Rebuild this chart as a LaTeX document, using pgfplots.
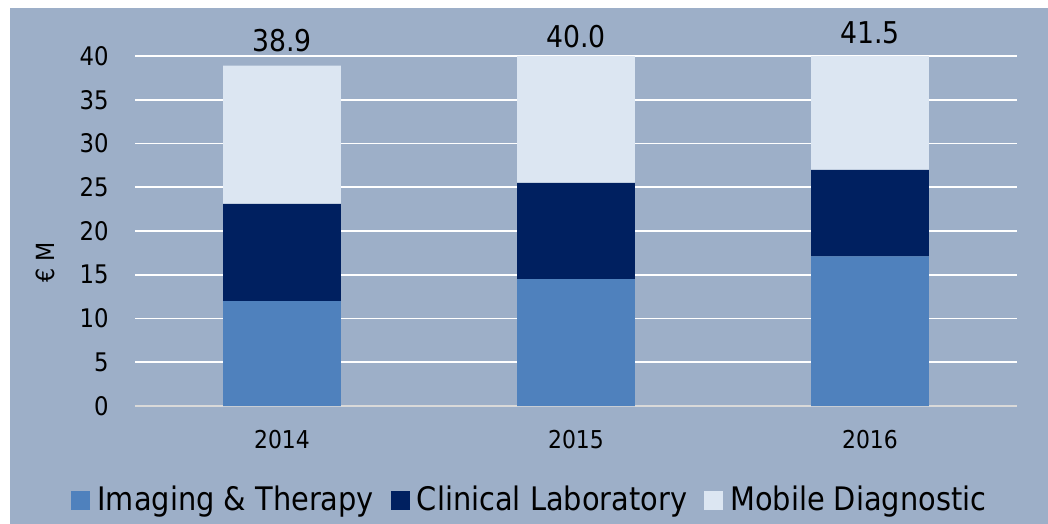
\documentclass[border=0pt]{standalone}
\usepackage{pgfplots}
\usepackage{pgfplotstable}
\pgfplotsset{compat=1.18}
\usepackage{fontspec}
\setmainfont{DejaVu Sans}[FakeStretch=0.89]
\definecolor{bgc}{HTML}{9DAFC8}
\definecolor{imgc}{HTML}{4F81BD}
\definecolor{clinc}{HTML}{002060}
\definecolor{mobc}{HTML}{DCE6F2}
\definecolor{zeroc}{HTML}{D9D9D9}
\pgfplotstableread{
x imaging clinical mobile
0 12.0 11.1 15.8
1 14.5 11.0 14.5
2 17.1 9.9 14.5
}\datatable
\begin{document}
\begin{tikzpicture}
\fill[white] (-67.5bp,-59bp) rectangle (456.5bp,203bp);
\fill[bgc] (-62.5bp,-59bp) rectangle (456.5bp,199bp);
\begin{axis}[
  at={(0,0)}, anchor=south west,
  scale only axis, width=441bp, height=175bp,
  ybar stacked, bar width=0.4,
  xmin=-0.5, xmax=2.5, ymin=0, ymax=40,
  xtick=data, xticklabels={2014,2015,2016},
  ytick={0,5,...,40},
  major tick length=0pt,
  axis x line*=bottom,
  axis y line*=left,
  y axis line style={draw=none},
  x axis line style={draw=zeroc, line width=0.9bp, -},
  ymajorgrids, grid style={white, line width=0.9bp},
  /pgf/number format/assume math mode=true,
  yticklabel style={font=\fontsize{12.8bp}{14bp}\selectfont, inner sep=0pt, anchor=east, xshift=-13bp},
  xticklabel style={font=\fontsize{12.3bp}{14bp}\selectfont, anchor=center, yshift=-17bp},
  ylabel={€ M},
  ylabel style={font=\fontsize{12.5bp}{14bp}\selectfont, at={(axis description cs:-0.102,0.41)}, anchor=center},
  legend columns=3,
  legend style={at={(axis description cs:0.4505,-0.269)}, anchor=center, draw=none, fill=none,
    font=\fontsize{16.2bp}{18bp}\selectfont, inner sep=0pt,
    /tikz/every even column/.append style={column sep=5bp},
    nodes={inner sep=3.5bp}},
  legend image code/.code={\fill[#1] (0bp,-4.75bp) rectangle (9.5bp,4.75bp);},
]
\addplot[fill=imgc, draw=none] table[x=x, y=imaging] {\datatable};
\addplot[fill=clinc, draw=none] table[x=x, y=clinical] {\datatable};
\addplot[fill=mobc, draw=none] table[x=x, y=mobile] {\datatable};
\legend{Imaging \& Therapy, Clinical Laboratory, Mobile Diagnostic}
\coordinate (l0) at (axis cs:0,41.71);
\coordinate (l1) at (axis cs:1,42.17);
\coordinate (l2) at (axis cs:2,42.63);
\end{axis}
\node[font=\fontsize{15bp}{17bp}\selectfont] at (l0) {38.9};
\node[font=\fontsize{15bp}{17bp}\selectfont] at (l1) {40.0};
\node[font=\fontsize{15bp}{17bp}\selectfont] at (l2) {41.5};
\end{tikzpicture}
\end{document}
